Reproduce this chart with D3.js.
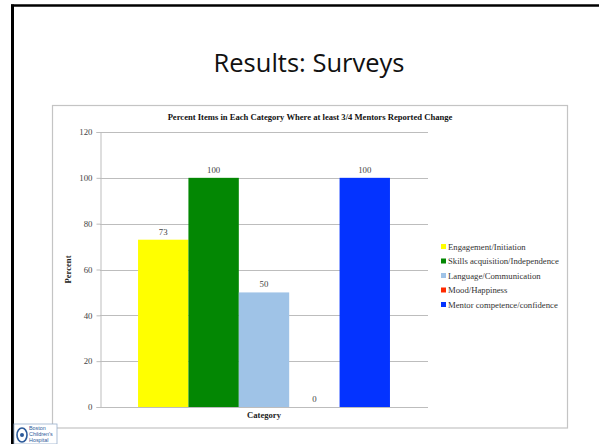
<!DOCTYPE html>
<html>
<head>
<meta charset="utf-8">
<script src="https://cdn.jsdelivr.net/npm/d3@7"></script>
<style>
  html, body { margin: 0; padding: 0; background: #fff; }
  svg { display: block; }
</style>
</head>
<body>
<script>
// Survey results: percent of items per category where at least 3/4 mentors reported change
const seriesNames = [
  "Engagement/Initiation",
  "Skills acquisition/Independence",
  "Language/Communication",
  "Mood/Happiness",
  "Mentor competence/confidence"
];
const seriesValues = [73, 100, 50, 0, 100];
const seriesColors = ["#ffff00", "#038703", "#9fc3e7", "#ff2a00", "#0433ff"];
const categories = ["Category"];
const yTicks = [0, 20, 40, 60, 80, 100, 120];

const W = 599, H = 444;
const svg = d3.select("body").append("svg").attr("width", W).attr("height", H);

// slide border (top and left)
svg.append("line").attr("x1", 11).attr("x2", 599).attr("y1", 5.5).attr("y2", 5.5)
  .attr("stroke", "#000").attr("stroke-width", 2.5);
svg.append("line").attr("x1", 12.5).attr("x2", 12.5).attr("y1", 4.5).attr("y2", H)
  .attr("stroke", "#000").attr("stroke-width", 3);

// slide title
svg.append("text").attr("x", 309).attr("y", 72).attr("text-anchor", "middle")
  .attr("font-family", "'Open Sans', Lato, sans-serif").attr("font-size", 25.5)
  .attr("fill", "#111").text("Results: Surveys");

// chart frame
svg.append("rect").attr("x", 52.5).attr("y", 105.5).attr("width", 515).attr("height", 322.5)
  .attr("fill", "#fff").attr("stroke", "#c4c4c4").attr("stroke-width", 1.2);

const serif = "'Liberation Serif', 'DejaVu Serif', serif";

svg.append("text").attr("x", 310).attr("y", 120).attr("text-anchor", "middle")
  .attr("font-family", serif).attr("font-weight", "bold").attr("font-size", 8.6)
  .attr("fill", "#111").text("Percent Items in Each Category Where at least 3/4 Mentors Reported Change");

const plot = { left: 100, right: 428, top: 132, bottom: 407 };

const y = d3.scaleLinear().domain([0, 120]).range([plot.bottom, plot.top]);
const x0 = d3.scaleBand().domain(categories).range([plot.left, plot.right]).paddingInner(0).paddingOuter(0.151);
const x1 = d3.scaleBand().domain(seriesNames).range([0, x0.bandwidth()]).padding(0);

// gridlines
svg.append("g").selectAll("line").data(yTicks.filter(d => d > 0)).join("line")
  .attr("x1", plot.left).attr("x2", plot.right)
  .attr("y1", d => Math.round(y(d)) + 0.5).attr("y2", d => Math.round(y(d)) + 0.5)
  .attr("stroke", "#bdbdbd").attr("stroke-width", 1);

// y axis
const yAxis = svg.append("g").attr("transform", `translate(${plot.left + 0.5},0)`)
  .call(d3.axisLeft(y).tickValues(yTicks).tickSize(4).tickPadding(4));
yAxis.select(".domain").attr("stroke", "#bdbdbd");
yAxis.selectAll(".tick line").attr("stroke", "#bdbdbd");
yAxis.selectAll(".tick text").attr("font-family", serif).attr("font-size", 8.8).attr("fill", "#444");

// bars
const g = svg.append("g");
categories.forEach(cat => {
  g.selectAll("rect.bar").data(seriesNames.map((n, i) => ({ n, v: seriesValues[i], c: seriesColors[i] })))
    .join("rect").attr("class", "bar")
    .attr("x", d => x0(cat) + x1(d.n))
    .attr("width", x1.bandwidth())
    .attr("y", d => y(d.v))
    .attr("height", d => plot.bottom - y(d.v))
    .attr("fill", d => d.c);
  g.selectAll("text.val").data(seriesNames.map((n, i) => ({ n, v: seriesValues[i] })))
    .join("text").attr("class", "val")
    .attr("x", d => x0(cat) + x1(d.n) + x1.bandwidth() / 2)
    .attr("y", d => y(d.v) - 5)
    .attr("text-anchor", "middle")
    .attr("font-family", serif).attr("font-size", 8.8).attr("fill", "#444")
    .text(d => d.v);
});

// x axis line
svg.append("line").attr("x1", plot.left).attr("x2", plot.right)
  .attr("y1", plot.bottom + 0.5).attr("y2", plot.bottom + 0.5)
  .attr("stroke", "#bdbdbd").attr("stroke-width", 1);

// axis titles
svg.append("text").attr("x", (plot.left + plot.right) / 2).attr("y", 418)
  .attr("text-anchor", "middle").attr("font-family", serif).attr("font-weight", "bold")
  .attr("font-size", 8.6).attr("fill", "#222").text("Category");
svg.append("text").attr("transform", `translate(71,${(plot.top + plot.bottom) / 2}) rotate(-90)`)
  .attr("text-anchor", "middle").attr("font-family", serif).attr("font-weight", "bold")
  .attr("font-size", 8.6).attr("fill", "#222").text("Percent");

// legend
const leg = svg.append("g").attr("transform", "translate(441,247)");
const items = leg.selectAll("g").data(seriesNames).join("g")
  .attr("transform", (d, i) => `translate(0,${i * 14.5})`);
items.append("rect").attr("x", 0).attr("y", -3).attr("width", 5).attr("height", 5)
  .attr("fill", (d, i) => seriesColors[i]);
items.append("text").attr("x", 7).attr("y", 2.8)
  .attr("font-family", serif).attr("font-size", 8.7).attr("fill", "#333").text(d => d);

// hospital logo, bottom left
const logo = svg.append("g").attr("transform", "translate(14,424)");
logo.append("rect").attr("x", 0).attr("y", 0).attr("width", 43).attr("height", 20)
  .attr("fill", "#fff").attr("stroke", "#9ab0cc").attr("stroke-width", 0.8);
logo.append("ellipse").attr("cx", 8).attr("cy", 11).attr("rx", 5).attr("ry", 7)
  .attr("fill", "none").attr("stroke", "#2c5a9a").attr("stroke-width", 1.6);
logo.append("circle").attr("cx", 8).attr("cy", 11).attr("r", 2)
  .attr("fill", "#2c5a9a");
["Boston", "Children's", "Hospital"].forEach((t, i) => {
  logo.append("text").attr("x", 15).attr("y", 6 + i * 5.8)
    .attr("font-family", "'Liberation Sans', Arial, sans-serif").attr("font-size", 5.4)
    .attr("fill", "#2c5a9a").text(t);
});
</script>
</body>
</html>
